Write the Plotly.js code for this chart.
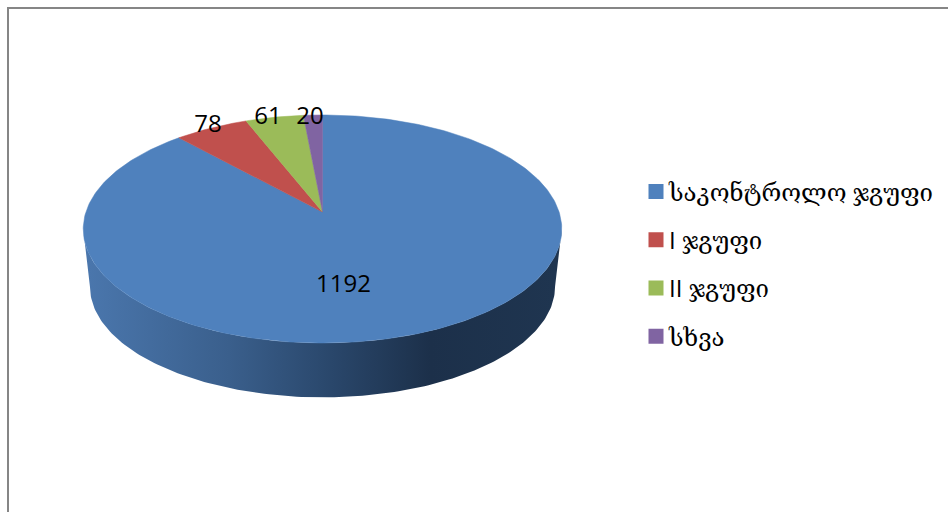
<!DOCTYPE html>
<html>
<head>
<meta charset="utf-8">
<script src="https://cdn.plot.ly/plotly-3.0.1.min.js"></script>
<style>html,body{margin:0;padding:0;background:#fff;overflow:hidden}#chart{width:948px;height:512px}</style>
</head>
<body>
<div id="chart"></div>
<script>
// Data
const categories = ["საკონტროლო ჯგუფი", "I ჯგუფი", "II ჯგუფი", "სხვა"];
const values = [1192, 78, 61, 20];

// Style
const colors = ["#4F81BD", "#C0504D", "#9BBB59", "#8064A2"];
const labelPos = [[343.5, 286], [208, 126], [268, 118], [310, 118]];
const sideScale = [[0, "#4A76AC"], [0.3, "#3A5F8C"], [0.5, "#2B496E"], [0.73, "#1C304A"], [1, "#1F3550"]];
const uiFont = "'Open Sans', 'DejaVu Serif', 'DejaVu Sans', serif";
const labelFont = "'Open Sans', sans-serif";

// Perspective projection of the pie disc onto the page (page-pixel data axes)
const apexX = 322.5, apexY = 212, persp = 0.149, bx = 236.6, by = 111.5;
function project(deg, scale, dy) {
  const t = deg * Math.PI / 180, u = Math.sin(t), v = Math.cos(t), d = 1 + persp * v;
  return [apexX + scale * bx * u / d, apexY + dy - scale * by * v / d];
}
function arc(from, to, scale, dy) {
  const xs = [], ys = [], n = Math.max(2, Math.ceil(Math.abs(to - from)));
  for (let i = 0; i <= n; i++) {
    const p = project(from + (to - from) * i / n, scale, dy);
    xs.push(p[0]); ys.push(p[1]);
  }
  return [xs, ys];
}

const total = values.reduce((a, b) => a + b, 0);
const traces = [];

// Extruded front wall, between the disc's widest points
const widest = Math.acos(-persp) * 180 / Math.PI;
const [bx0, by0] = arc(widest, 360 - widest, 0.972, 58);
const [tx0, ty0] = arc(360 - widest, widest, 1, 0);
traces.push({
  type: "scatter", mode: "lines", x: bx0.concat(tx0), y: by0.concat(ty0),
  fill: "toself", line: {width: 0, color: "#2B496E"}, showlegend: false, hoverinfo: "skip",
  fillgradient: {type: "horizontal", colorscale: sideScale, start: 89, stop: 556}
});

// Top-face slices, clockwise from twelve o'clock
let cum = 0;
values.forEach((val, i) => {
  const a0 = cum / total * 360, a1 = (cum + val) / total * 360;
  cum += val;
  const [xs, ys] = arc(a0, a1, 1, 0);
  traces.push({
    type: "scatter", mode: "lines",
    x: [apexX].concat(xs, [apexX]), y: [apexY].concat(ys, [apexY]),
    fill: "toself", fillcolor: colors[i], line: {width: 0.5, color: colors[i]},
    showlegend: false, name: categories[i], text: String(val), hoverinfo: "name+text"
  });
});

// Value labels
traces.push({
  type: "scatter", mode: "text",
  x: labelPos.map(p => p[0]), y: labelPos.map(p => p[1]),
  text: values.map(String), textposition: "middle center",
  textfont: {family: labelFont, size: 24, color: "#000"},
  showlegend: false, hoverinfo: "skip"
});

// Legend entries
categories.forEach((c, i) => traces.push({
  type: "scatter", mode: "markers", x: [null], y: [null], name: c, legendgroup: "g" + i,
  marker: {symbol: "square", size: 15, color: colors[i]}, showlegend: true
}));

const layout = {
  width: 948, height: 512, margin: {l: 0, r: 0, t: 0, b: 0},
  paper_bgcolor: "#fff", plot_bgcolor: "#fff",
  xaxis: {range: [0, 948], visible: false, fixedrange: true},
  yaxis: {range: [512, 0], visible: false, fixedrange: true},
  legend: {
    x: 636 / 948, y: 1 - 169.5 / 512, xanchor: "left", yanchor: "top",
    font: {family: uiFont, size: 24, color: "#000"},
    itemwidth: 30, entrywidth: 262, entrywidthmode: "pixels",
    tracegroupgap: 14, traceorder: "grouped", bgcolor: "rgba(0,0,0,0)"
  },
  shapes: [
    {type: "line", xref: "paper", yref: "paper", x0: 8 / 948, x1: 8 / 948, y0: 0, y1: 1 - 7 / 512, line: {color: "#868686", width: 2}},
    {type: "line", xref: "paper", yref: "paper", x0: 7 / 948, x1: 1, y0: 1 - 8 / 512, y1: 1 - 8 / 512, line: {color: "#868686", width: 2}}
  ]
};

Plotly.newPlot("chart", traces, layout, {displayModeBar: false, staticPlot: true}).then(() => {
  // Plotly's legend keeps a fixed gap after the symbol; the reference's gap is narrower.
  document.querySelectorAll("#chart .legendtext").forEach(t => t.setAttribute("x", "33"));
});
</script>
</body>
</html>
